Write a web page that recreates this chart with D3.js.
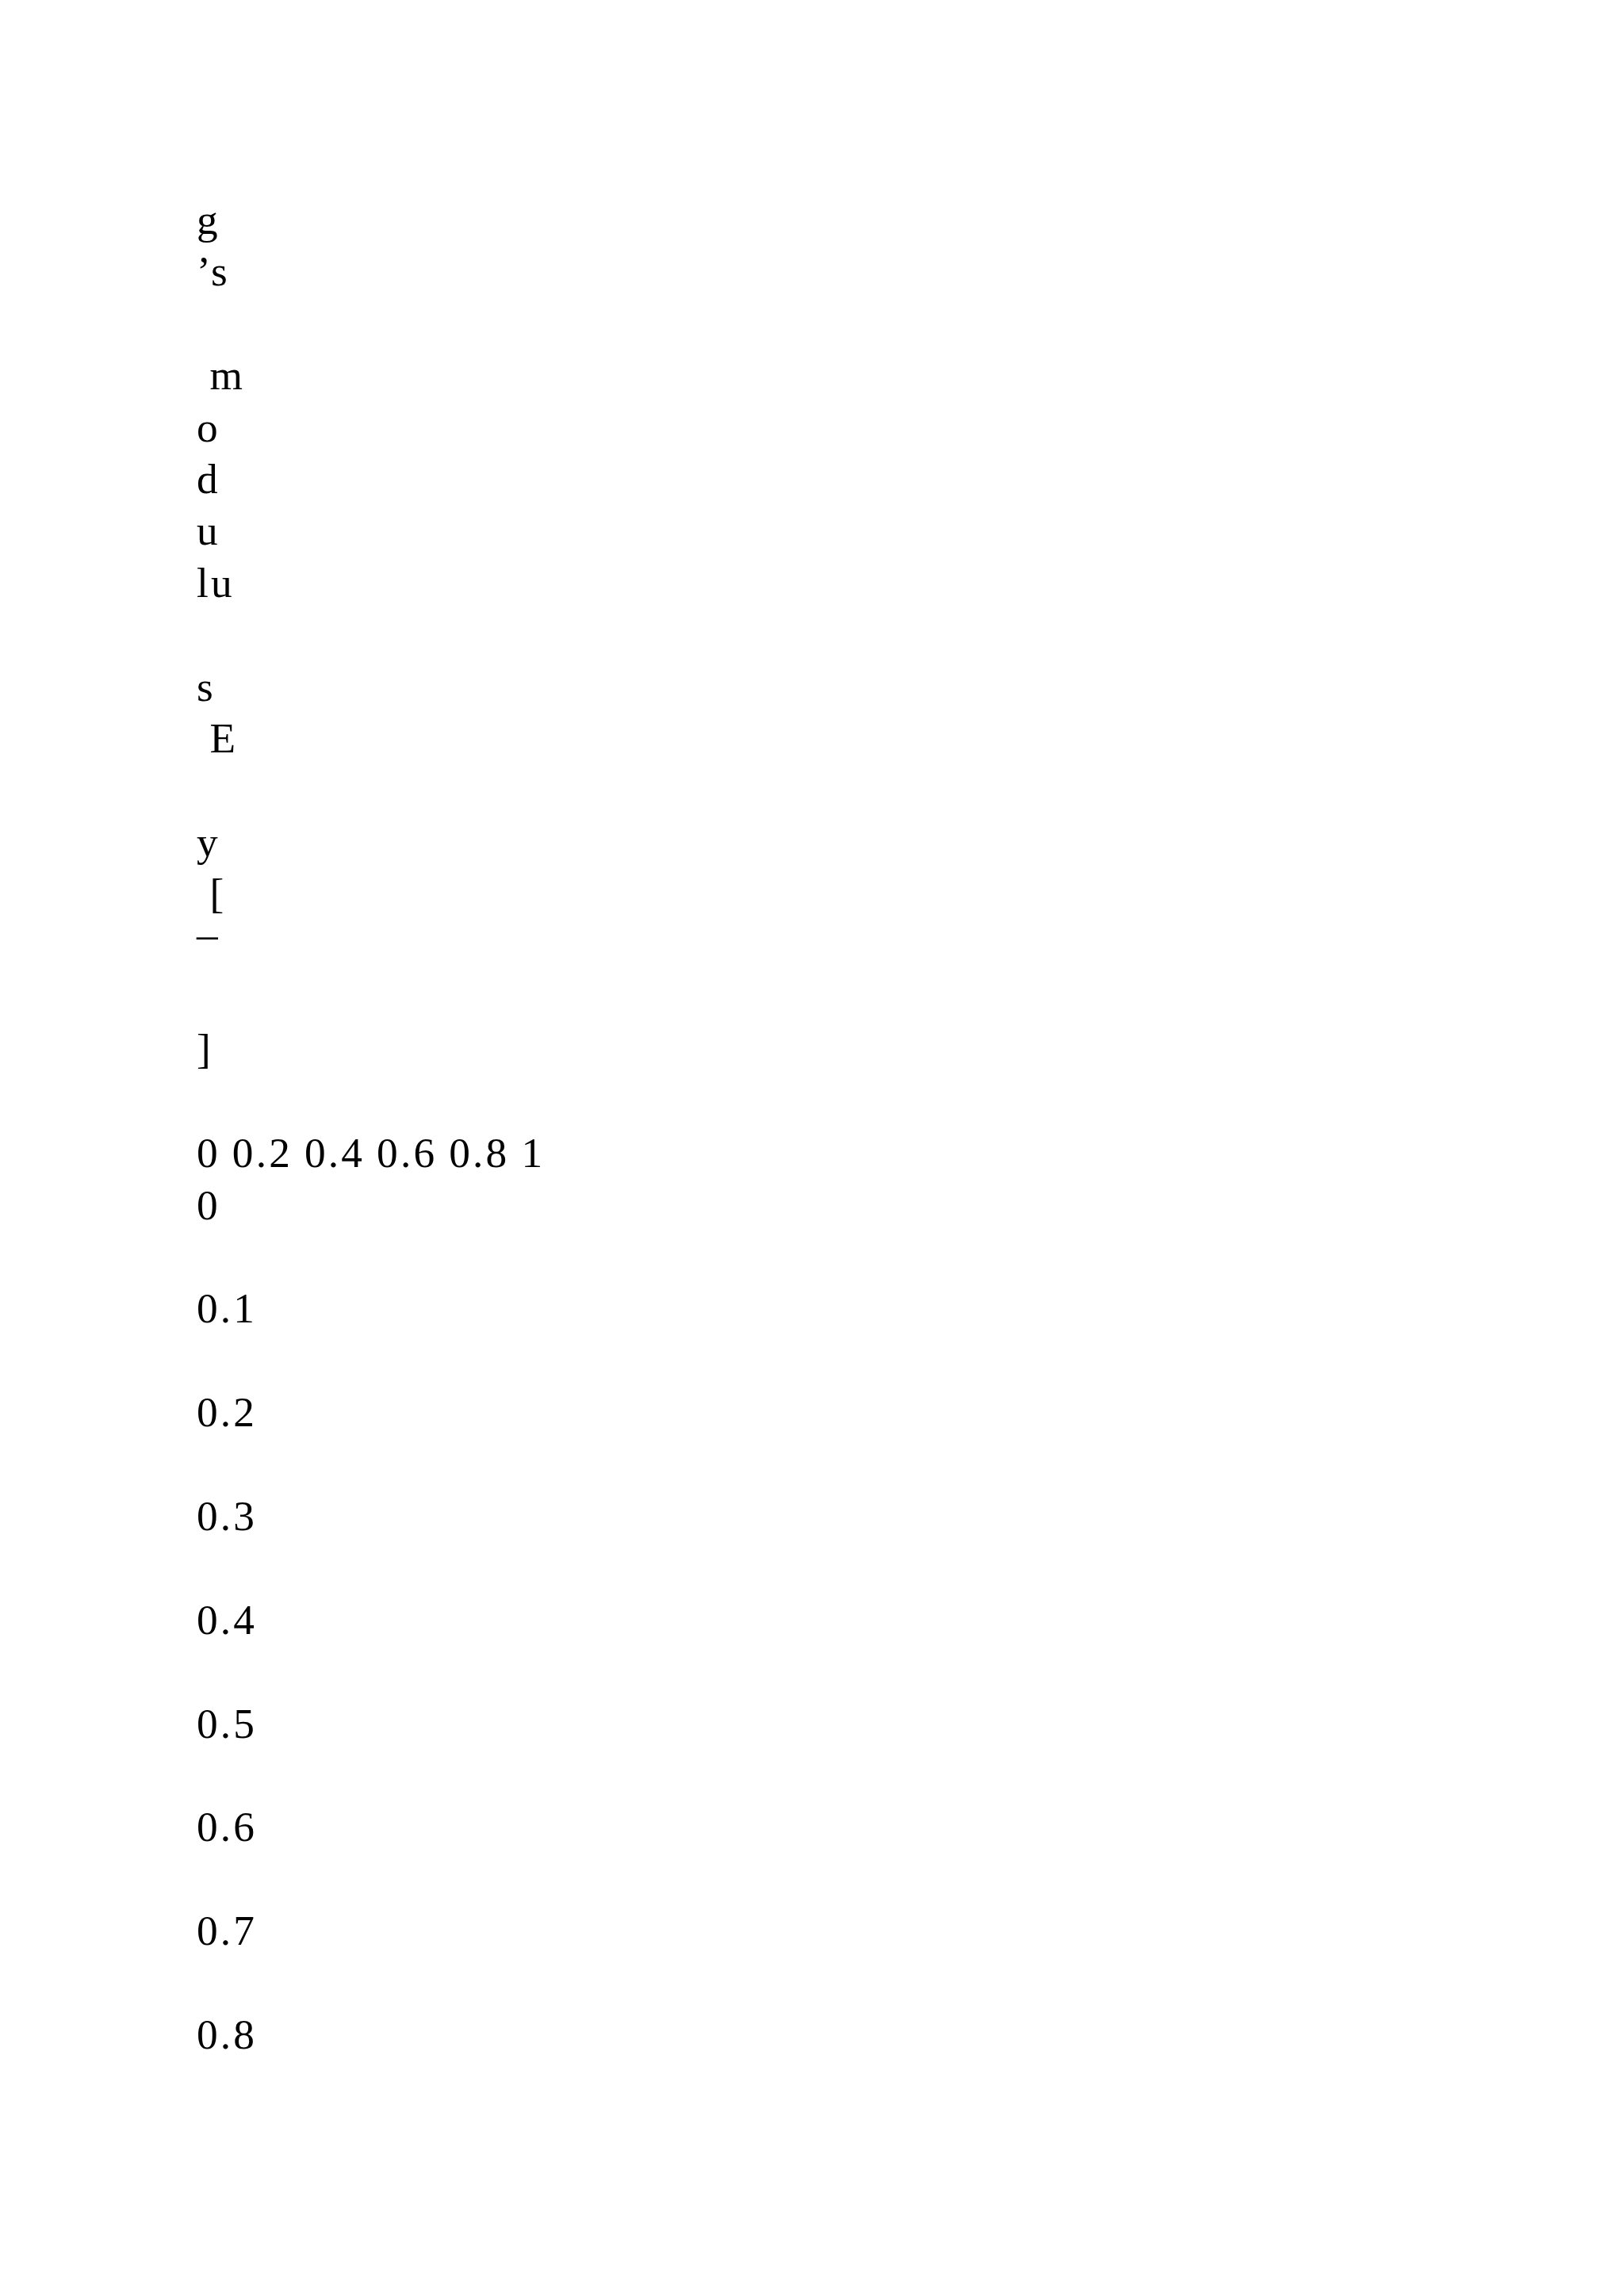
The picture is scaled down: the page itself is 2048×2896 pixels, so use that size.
<!DOCTYPE html>
<html>
<head>
<meta charset="utf-8">
<script src="https://cdn.jsdelivr.net/npm/d3@7"></script>
<style>
  html, body { margin: 0; padding: 0; background: #ffffff; }
  svg text { font-family: "Liberation Serif", "Times New Roman", serif; white-space: pre; }
</style>
</head>
<body>
<script>
// ---- data ----
const yLabelLines = ["g", "\u2019s", "", " m", "o", "d", "u", "lu", "", "s", " E", "", "y", " [", "\u2013", "", "]"];
const xTickValues = [0, 0.2, 0.4, 0.6, 0.8, 1];
const xTickLabels = ["0", "0.2", "0.4", "0.6", "0.8", "1"];
const yTickValues = [0, 0.1, 0.2, 0.3, 0.4, 0.5, 0.6, 0.7, 0.8];
const yTickLabels = ["0", "0.1", "0.2", "0.3", "0.4", "0.5", "0.6", "0.7", "0.8"];

// ---- layout ----
const W = 2048, H = 2896;
const fontSize = 53.3;
const letterSpacing = 3.2;
const left = 248;
const firstBaseline = 295;
const linePitch = 65.4;
const xRowLine = 18;         // line index of the x tick row
const yTickFirstLine = 19;   // line index of the "0" y tick
const yTickLastLine = 35;    // line index of the "0.8" y tick

const lineY = d3.scaleLinear().domain([0, 1]).range([firstBaseline, firstBaseline + linePitch]);
const yScale = d3.scaleLinear()
  .domain([d3.min(yTickValues), d3.max(yTickValues)])
  .range([lineY(yTickFirstLine), lineY(yTickLastLine)]);

const svg = d3.select("body").append("svg")
  .attr("width", W).attr("height", H)
  .attr("viewBox", `0 0 ${W} ${H}`);

svg.append("rect").attr("width", W).attr("height", H).attr("fill", "#ffffff");

const textStyle = sel => sel
  .attr("font-size", fontSize)
  .attr("letter-spacing", letterSpacing)
  .attr("fill", "#000000");

// y-axis title, broken into narrow lines
svg.append("g").attr("class", "y-title")
  .selectAll("text")
  .data(yLabelLines)
  .join("text")
  .attr("x", left)
  .attr("y", (d, i) => lineY(i) - (d === "\u2013" ? 14.6 : 0))
  .text(d => d)
  .call(textStyle);

// x tick labels, flowing on one line
const xRow = svg.append("text")
  .attr("class", "x-ticks")
  .attr("x", left)
  .attr("y", lineY(xRowLine))
  .attr("word-spacing", -1.6)
  .call(textStyle);
xRow.selectAll("tspan")
  .data(xTickValues)
  .join("tspan")
  .text((d, i) => xTickLabels[i] + (i < xTickValues.length - 1 ? " " : ""));

// y tick labels
svg.append("g").attr("class", "y-ticks")
  .selectAll("text")
  .data(yTickValues)
  .join("text")
  .attr("x", left)
  .attr("y", d => yScale(d))
  .text((d, i) => yTickLabels[i])
  .call(textStyle);
</script>
</body>
</html>
